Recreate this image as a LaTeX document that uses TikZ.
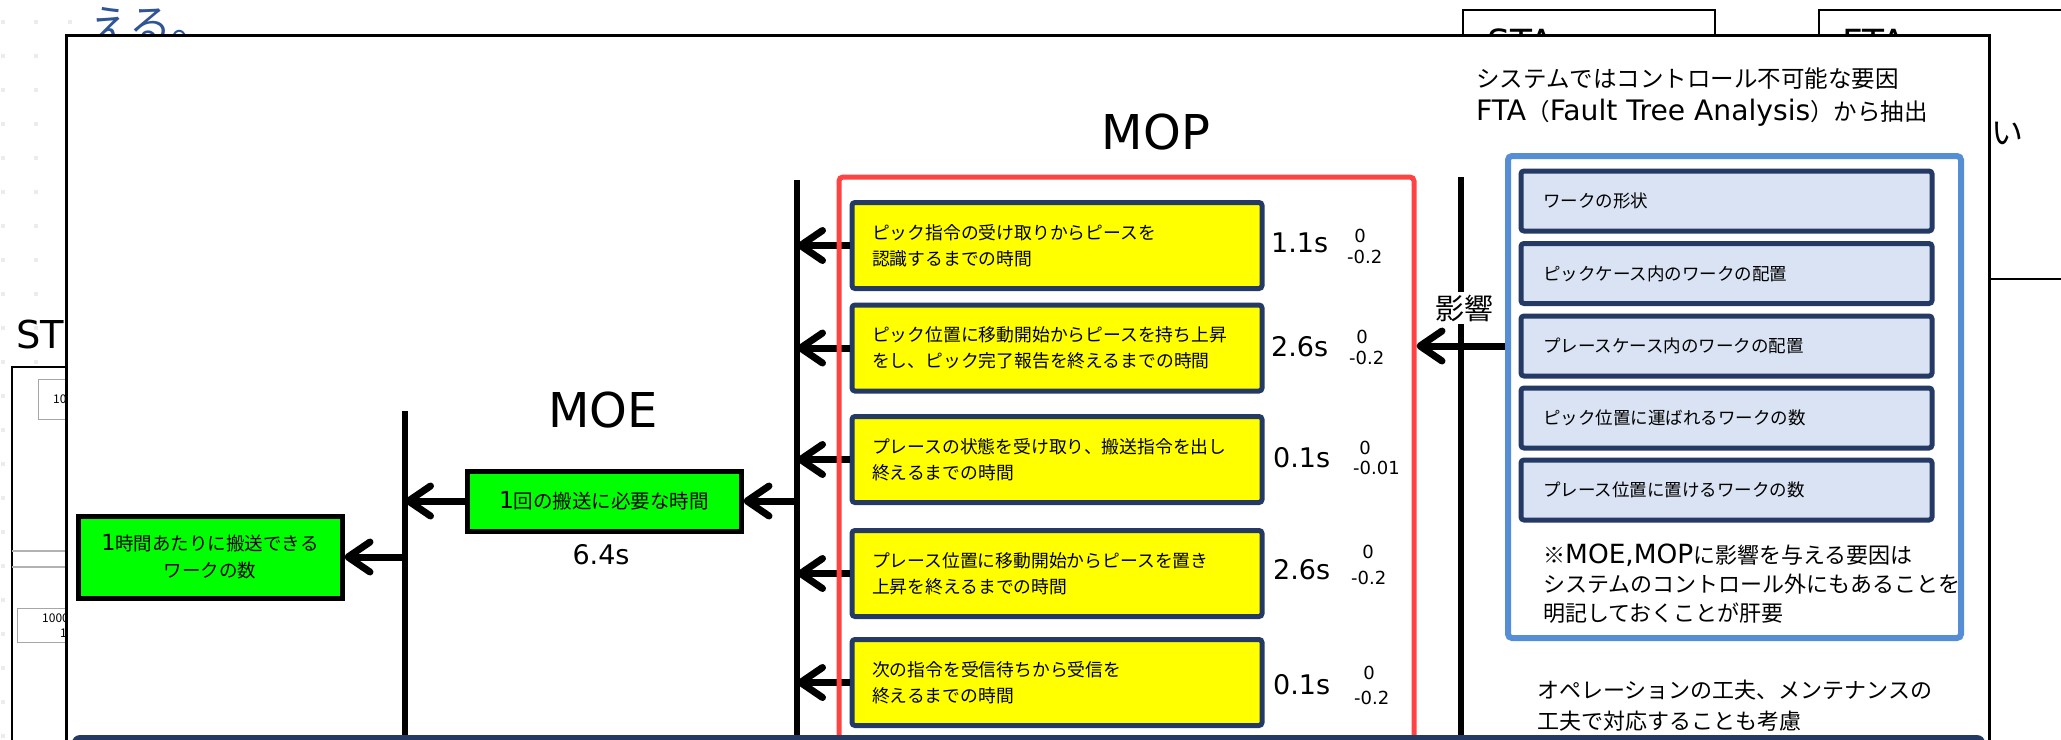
\documentclass[tikz,border=0pt]{standalone}
\usepackage{fontspec}
\setmainfont{Noto Sans CJK JP}
\newfontfamily\lat{DejaVu Sans}[Scale=1.2]
\newcommand\LT[1]{{\lat #1}}
\usetikzlibrary{arrows.meta}
\definecolor{navy}{HTML}{243A64}
\definecolor{redframe}{HTML}{FF4343}
\definecolor{blueframe}{HTML}{558ED5}
\definecolor{lightfill}{HTML}{DAE3F3}
\definecolor{tblue}{HTML}{2F5597}
\definecolor{ygreen}{HTML}{00FF00}
\definecolor{yyellow}{HTML}{FFFF00}
\begin{document}
\begin{tikzpicture}[x=1pt,y=-1pt,
  ybox/.style={draw=navy, line width=5pt, fill=yyellow, rounded corners=3pt,
    minimum width=410pt, minimum height=86pt, text width=370pt, inner xsep=20pt,
    align=left, font=\fontsize{17.8}{26}\selectfont},
  gbox/.style={draw=black, line width=5pt, fill=ygreen, align=center, inner sep=0pt},
  bbox/.style={draw=navy, line width=5pt, fill=lightfill, rounded corners=3pt,
    minimum width=411pt, minimum height=60pt, text width=367pt, inner xsep=22pt,
    align=left, font=\fontsize{17.5}{24}\selectfont},
  arr/.style={line width=7pt, -{Straight Barb[length=22pt,width=30pt,round]}},
  bus/.style={line width=6pt},
  val/.style={anchor=west, font=\lat\fontsize{22.5}{26}\selectfont, inner sep=0pt},
  tol/.style={font=\lat\fontsize{15}{17}\selectfont, inner sep=0pt},
  tolm/.style={anchor=west, font=\lat\fontsize{15}{17}\selectfont, inner sep=0pt},
  bgline/.style={line width=2pt},
  bigt/.style={font=\lat\fontsize{40}{42}\selectfont, inner sep=0pt},
  bghead/.style={anchor=base west, font=\lat\fontsize{30}{30}\selectfont, inner sep=0pt}
]
\useasboundingbox (0,0) rectangle (2061,739);
\fill[white] (0,0) rectangle (2061,739);

% ---------- background (behind the panel) ----------
\foreach \yy in {20,54,...,740} {
  \fill[gray!15] (1,\yy) rectangle +(4,4);
  \fill[gray!15] (34,\yy) rectangle +(4,4);
}
\fill[gray!15] (68,20) rectangle +(4,4);
\node[anchor=base west, text=tblue, font=\fontsize{42}{42}\selectfont, inner sep=0pt] (eru) at (89,40) {える。};
\node[anchor=base west, font=\lat\fontsize{32}{32}\selectfont, inner sep=0pt] (stleft) at (16,348) {ST};
\draw[bgline, fill=white] (12,367) rectangle (160,800);
\draw[gray!70, line width=1pt] (38,379) rectangle (160,419);
\node[anchor=west, font=\fontsize{12}{12}\selectfont, inner sep=0pt] (num1) at (53,399) {100};
\draw[gray!60, line width=1.2pt] (12,551) -- (160,551);
\draw[gray!60, line width=1.2pt] (12,567) -- (160,567);
\draw[gray!70, line width=1pt] (17,608) rectangle (160,642);
\node[anchor=west, font=\fontsize{12}{12}\selectfont, inner sep=0pt] (num2) at (42,618) {1000};
\node[anchor=west, font=\fontsize{12}{12}\selectfont, inner sep=0pt] (num3) at (60,633) {1};

\draw[bgline] (1463,60) -- (1463,10) -- (1715,10) -- (1715,60);
\node[bghead] (sta) at (1487,55) {STA};
\draw[bgline] (1819,60) -- (1819,10) -- (2080,10);
\draw[bgline] (1980,279) -- (2080,279);
\node[bghead] (fta) at (1842,55) {FTA};
\node[font=\fontsize{32}{32}\selectfont, inner sep=0pt] (ii) at (2007,133) {い};

% ---------- main panel ----------
\draw[line width=3pt, fill=white] (66,35) rectangle (1989,800);

% titles
\node[bigt] (moe) at (603,410) {MOE};
\node[bigt] (mop) at (1156,132) {MOP};

% buses
\coordinate (busAtop) at (405,411);
\coordinate (busAbot) at (405,760);
\coordinate (busBtop) at (797,180);
\coordinate (busBbot) at (797,760);
\coordinate (busCtop) at (1461,177);
\coordinate (busCbot) at (1461,760);
\draw[bus] (busAtop) -- (busAbot);
\draw[bus] (busBtop) -- (busBbot);
\draw[bus] (busCtop) -- (busCbot);

% MOE boxes
\node[gbox, minimum width=264pt, minimum height=82pt, font=\fontsize{18.5}{27}\selectfont] (g1) at (210,557) {\LT{1}時間あたりに搬送できる\\ワークの数};
\node[gbox, minimum width=274pt, minimum height=60pt, font=\fontsize{19.5}{22}\selectfont] (g2) at (604,501) {\LT{1}回の搬送に必要な時間};
\node[font=\lat\fontsize{22.5}{26}\selectfont, inner sep=0pt] (t64) at (601,555) {6.4s};

% MOP boxes
\node[ybox] (y1) at (1057,245.5) {ピック指令の受け取りからピースを\\認識するまでの時間};
\node[ybox] (y2) at (1057,348) {ピック位置に移動開始からピースを持ち上昇\\をし、ピック完了報告を終えるまでの時間};
\node[ybox] (y3) at (1057,459.5) {プレースの状態を受け取り、搬送指令を出し\\終えるまでの時間};
\node[ybox] (y4) at (1057,573.5) {プレース位置に移動開始からピースを置き\\上昇を終えるまでの時間};
\node[ybox] (y5) at (1057,682.5) {次の指令を受信待ちから受信を\\終えるまでの時間};

% values
\node[val] (v1) at (1271,243) {1.1s};
\node[tol] (z1) at (1360,236) {0};
\node[tolm] (m1) at (1347,257) {-0.2};
\node[val] (v2) at (1271,347) {2.6s};
\node[tol] (z2) at (1362,337) {0};
\node[tolm] (m2) at (1349,358) {-0.2};
\node[val] (v3) at (1273,458) {0.1s};
\node[tol] (z3) at (1365,448) {0};
\node[tolm] (m3) at (1353,468) {-0.01};
\node[val] (v4) at (1273,570) {2.6s};
\node[tol] (z4) at (1368,552) {0};
\node[tolm] (m4) at (1351,578) {-0.2};
\node[val] (v5) at (1273,685) {0.1s};
\node[tol] (z5) at (1369,673) {0};
\node[tolm] (m5) at (1354,698) {-0.2};

% arrows
\draw[arr] (g1.east -| busAtop) -- (g1.east);
\draw[arr] (g2.west) -- (g2.west -| busAtop);
\draw[arr] (g2.east -| busBtop) -- (g2.east);
\foreach \n in {y1,y2,y3,y4,y5} {
  \draw[arr] (\n.west) -- (\n.west -| busBtop);
}

% red MOP frame
\node[draw=redframe, line width=5pt, rounded corners=4pt, minimum width=575pt, minimum height=620pt, inner sep=0pt] (mopframe) at (1126.5,487) {};

% right side
\node[anchor=west, align=left, font=\fontsize{23.5}{33}\selectfont, inner sep=0pt] (ftahead) at (1476,97) {システムではコントロール不可能な要因\\\LT{FTA}（\LT{Fault Tree Analysis}）から抽出};
\node[draw=blueframe, line width=6pt, rounded corners=4pt, minimum width=453pt, minimum height=482pt, inner sep=0pt] (ftabox) at (1734.5,397) {};
\node[bbox] (c1) at (1726.5,201) {ワークの形状};
\node[bbox] (c2) at (1726.5,273.5) {ピックケース内のワークの配置};
\node[bbox] (c3) at (1726.5,346) {プレースケース内のワークの配置};
\node[bbox] (c4) at (1726.5,418) {ピック位置に運ばれるワークの数};
\node[bbox] (c5) at (1726.5,490) {プレース位置に置けるワークの数};
\node[anchor=west, align=left, font=\fontsize{22}{29}\selectfont, inner sep=0pt] (note1) at (1543,584) {※\LT{MOE,MOP}に影響を与える要因は\\システムのコントロール外にもあることを\\明記しておくことが肝要};
\node[anchor=west, align=left, font=\fontsize{22}{31}\selectfont, inner sep=0pt] (note2) at (1537,706) {オペレーションの工夫、メンテナンスの\\工夫で対応することも考慮};

\node[fill=white, inner sep=3pt, font=\fontsize{29}{30}\selectfont] (eikyo) at (1464,308) {影響};
\draw[arr] (ftabox.west |- c3.center) -- (mopframe.east |- c3.center);

% bottom bar
\fill[navy, rounded corners=8pt] (72,735) rectangle (1985,790);
\end{tikzpicture}
\end{document}
